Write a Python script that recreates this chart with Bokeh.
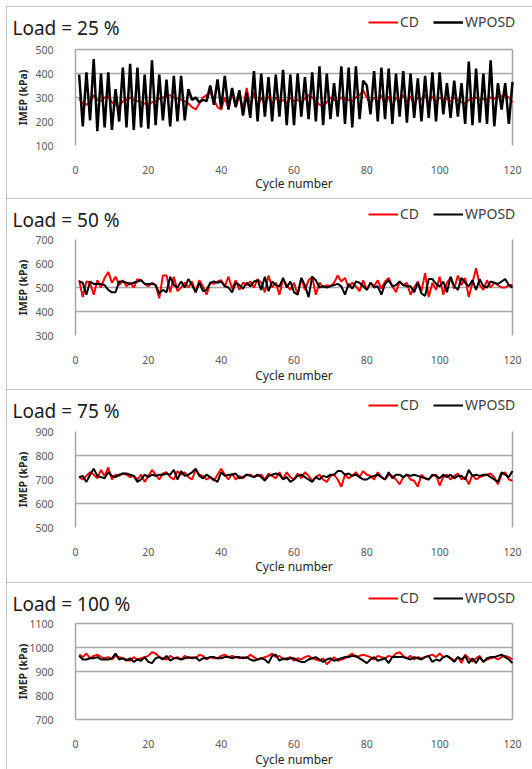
import math
from bokeh.plotting import figure
from bokeh.models import Range1d, FixedTicker, Legend, LegendItem, Label, Spacer
from bokeh.layouts import column, row
from bokeh.embed import file_html
from bokeh.resources import INLINE

cycles = list(range(1, 121))
x_ticks = [0, 20, 40, 60, 80, 100, 120]

titles = ["Load = 25 %", "Load = 50 %", "Load = 75 %", "Load = 100 %"]
series_names = ["CD", "WPOSD"]
x_title = "Cycle number"
y_title = "IMEP (kPa)"

cd_25 = [295, 275, 270, 280, 310, 290, 285, 300, 305, 280,
         270, 260, 285, 290, 300, 290, 285, 280, 275, 270,
         280, 285, 295, 300, 305, 310, 300, 295, 290, 285,
         275, 260, 250, 275, 300, 310, 320, 290, 260, 250,
         300, 255, 320, 260, 310, 250, 340, 260, 320, 265,
         300, 270, 305, 275, 300, 280, 290, 275, 300, 285,
         290, 280, 295, 310, 300, 285, 270, 265, 280, 300,
         290, 285, 300, 295, 290, 285, 300, 310, 330, 300,
         275, 300, 280, 310, 270, 305, 260, 300, 285, 310,
         280, 305, 270, 300, 290, 310, 275, 305, 280, 300,
         290, 295, 285, 300, 290, 280, 275, 290, 295, 300,
         290, 295, 290, 300, 295, 300, 305, 310, 300, 280]
wposd_25 = [395, 180, 405, 205, 460, 160, 400, 175, 405, 165,
            335, 200, 425, 175, 440, 165, 425, 175, 395, 170,
            455, 185, 395, 205, 375, 180, 390, 200, 390, 205,
            335, 290, 300, 280, 290, 285, 350, 270, 375, 255,
            390, 250, 340, 260, 330, 225, 320, 215, 410, 200,
            400, 220, 385, 200, 395, 220, 415, 185, 395, 185,
            400, 220, 385, 210, 405, 200, 430, 185, 400, 210,
            360, 220, 430, 190, 425, 175, 430, 210, 370, 350,
            230, 410, 200, 425, 210, 420, 190, 400, 220, 410,
            195, 400, 215, 380, 200, 390, 215, 405, 200, 405,
            230, 360, 215, 370, 220, 360, 190, 450, 185, 420,
            195, 400, 190, 455, 180, 360, 250, 360, 190, 365]

cd_50 = [530, 460, 525, 520, 470, 530, 500, 540, 565, 520,
         545, 510, 530, 505, 520, 500, 535, 530, 515, 505,
         520, 510, 455, 550, 550, 480, 545, 485, 500, 520,
         500, 525, 480, 530, 505, 470, 520, 515, 525, 530,
         505, 545, 495, 530, 490, 520, 510, 525, 500, 535,
         520, 480, 550, 500, 520, 470, 535, 510, 490, 520,
         470, 540, 490, 530, 545, 470, 520, 500, 510, 505,
         520, 550, 525, 540, 500, 520, 505, 485, 530, 490,
         520, 505, 530, 495, 525, 540, 505, 480, 525, 510,
         520, 470, 500, 525, 485, 560, 460, 520, 490, 545,
         470, 520, 540, 495, 550, 510, 540, 460, 520, 580,
         510, 490, 530, 500, 520, 510, 500, 500, 510, 510]
wposd_50 = [525, 520, 470, 525, 515, 515, 515, 510, 490, 480,
            480, 525, 525, 520, 515, 520, 525, 530, 515, 515,
            515, 510, 475, 490, 480, 545, 510, 500, 525, 500,
            535, 510, 480, 520, 485, 490, 520, 525, 520, 525,
            505, 500, 480, 520, 510, 495, 520, 505, 525, 530,
            490, 545, 485, 525, 510, 505, 540, 500, 525, 480,
            470, 540, 510, 460, 545, 530, 500, 505, 500, 505,
            510, 515, 505, 470, 515, 495, 525, 520, 505, 490,
            520, 500, 505, 470, 515, 530, 505, 510, 525, 510,
            505, 505, 480, 520, 475, 465, 535, 535, 515, 505,
            525, 480, 545, 505, 490, 540, 520, 505, 530, 490,
            535, 505, 500, 525, 520, 515, 525, 535, 510, 500]

cd_75 = [710, 700, 715, 730, 720, 705, 740, 715, 750, 700,
         720, 715, 725, 720, 710, 715, 700, 720, 690, 715,
         740, 720, 700, 725, 730, 710, 700, 735, 720, 730,
         710, 700, 740, 720, 715, 700, 710, 695, 720, 745,
         720, 700, 725, 700, 715, 705, 720, 720, 710, 715,
         720, 700, 725, 715, 705, 730, 700, 730, 710, 700,
         725, 705, 730, 715, 695, 710, 720, 700, 690, 715,
         720, 700, 670, 720, 705, 715, 730, 710, 735, 720,
         715, 700, 730, 710, 700, 720, 715, 700, 680, 710,
         720, 700, 695, 670, 720, 705, 700, 715, 720, 675,
         710, 720, 700, 715, 725, 700, 710, 680, 720, 700,
         710, 715, 720, 725, 710, 680, 720, 730, 700, 695]
wposd_75 = [710, 715, 690, 720, 745, 715, 710, 705, 730, 715,
            710, 720, 725, 725, 720, 715, 690, 700, 720, 710,
            720, 715, 720, 720, 725, 720, 740, 700, 735, 715,
            720, 730, 745, 715, 705, 720, 710, 700, 690, 730,
            715, 720, 720, 725, 705, 710, 720, 715, 710, 720,
            710, 695, 715, 720, 725, 720, 700, 710, 690, 700,
            715, 720, 710, 700, 690, 710, 700, 715, 710, 720,
            720, 735, 735, 720, 725, 715, 720, 710, 700, 700,
            710, 715, 720, 710, 700, 730, 705, 720, 720, 710,
            720, 715, 720, 715, 710, 705, 700, 720, 715, 705,
            720, 710, 720, 705, 715, 715, 700, 740, 715, 720,
            715, 720, 720, 710, 700, 690, 730, 720, 710, 735]

cd_100 = [970, 960, 975, 955, 965, 970, 960, 955, 960, 950,
          965, 960, 955, 950, 945, 960, 950, 955, 960, 965,
          980, 975, 960, 955, 950, 965, 955, 960, 950, 965,
          955, 960, 955, 970, 965, 950, 960, 955, 955, 965,
          970, 960, 965, 960, 955, 960, 955, 970, 960, 950,
          955, 960, 965, 975, 960, 965, 950, 955, 960, 945,
          955, 950, 960, 965, 955, 950, 945, 955, 930, 945,
          960, 945, 950, 955, 965, 975, 960, 965, 970, 965,
          960, 950, 965, 960, 955, 965, 960, 975, 980, 965,
          955, 965, 950, 960, 955, 960, 965, 970, 960, 975,
          960, 965, 955, 945, 960, 935, 970, 955, 940, 955,
          965, 940, 950, 955, 960, 950, 960, 965, 960, 950]
wposd_100 = [965, 950, 950, 955, 955, 960, 950, 950, 950, 955,
             975, 950, 955, 945, 955, 940, 950, 945, 960, 940,
             935, 955, 960, 950, 965, 945, 955, 955, 950, 955,
             960, 955, 960, 945, 955, 955, 960, 960, 955, 955,
             960, 960, 955, 960, 960, 955, 960, 950, 945, 950,
             955, 950, 935, 965, 970, 945, 955, 950, 955, 955,
             945, 940, 940, 950, 955, 960, 950, 940, 950, 955,
             945, 950, 955, 960, 960, 965, 965, 955, 945, 935,
             950, 960, 945, 950, 955, 935, 960, 960, 960, 960,
             955, 950, 960, 955, 950, 960, 965, 940, 950, 945,
             960, 965, 955, 940, 960, 950, 965, 935, 955, 935,
             960, 940, 955, 960, 960, 965, 970, 960, 950, 935]

cd_all = [cd_25, cd_50, cd_75, cd_100]
wposd_all = [wposd_25, wposd_50, wposd_75, wposd_100]

y_ranges = [(100, 500), (300, 700), (500, 900), (700, 1100)]
y_ticks = [[100, 200, 300, 400, 500],
           [300, 400, 500, 600, 700],
           [500, 600, 700, 800, 900],
           [700, 800, 900, 1000, 1100]]
y_gridlines = [[300, 400, 500], [400, 500], [600, 800], [700, 900, 1000, 1100]]

# ---- layout / style (pixels) ----
FONT = "Noto Sans"
RED = "#ff0000"
BLACK = "#000000"
GRID = "#a6a6a6"
W = 526
panel_heights = [192, 191, 193, 187]
top_offsets = [43, 41, 42, 41]
DATA_LEFT = 69
DATA_W = 437
DATA_H = 96

panels = []
for i in range(4):
    Hp = panel_heights[i]
    top_off = top_offsets[i]
    ymin, ymax = y_ranges[i]
    x0, x1 = x_ticks[0], x_ticks[-1]
    ppx = DATA_W / (x1 - x0)
    ppy = DATA_H / (ymax - ymin)
    xr = Range1d(x0 - DATA_LEFT / ppx, x1 + (W - DATA_LEFT - DATA_W) / ppx)
    yr = Range1d(ymin - (Hp - top_off - DATA_H) / ppy, ymax + top_off / ppy)

    p = figure(width=W, height=Hp, output_backend="svg", toolbar_location=None,
               x_range=xr, y_range=yr, min_border=0)
    p.outline_line_color = None
    p.xgrid.visible = False
    p.ygrid.visible = False

    # axes fixed inside the frame
    p.xaxis.fixed_location = ymin
    p.yaxis.fixed_location = x0
    p.xaxis.ticker = FixedTicker(ticks=x_ticks)
    p.yaxis.ticker = FixedTicker(ticks=y_ticks[i])
    for ax in (p.xaxis[0], p.yaxis[0]):
        ax.axis_line_color = None
        ax.major_tick_line_color = None
        ax.minor_tick_line_color = None
        ax.major_label_text_font = FONT
        ax.major_label_text_font_size = "10.5px"
        ax.major_label_text_color = "#595959"
    p.xaxis.major_label_standoff = 14
    p.yaxis.major_label_standoff = 16

    # grid lines and the vertical frame lines
    g = y_gridlines[i]
    p.segment(x0=[x0] * len(g), x1=[x1] * len(g), y0=g, y1=g,
              line_color=GRID, line_width=1.5)
    p.segment(x0=[x0, x1], x1=[x0, x1], y0=[ymin, ymin], y1=[ymax, ymax],
              line_color=GRID, line_width=1.5)

    lw_w = 2.5 if i == 0 else 2.0
    r_cd = p.line(cycles, cd_all[i], line_color=RED, line_width=2.0)
    r_w = p.line(cycles, wposd_all[i], line_color=BLACK, line_width=lw_w)

    # axis titles
    p.add_layout(Label(x=16, y=(ymin + ymax) / 2, x_units="screen", y_units="data",
                       text=y_title, angle=math.pi / 2, text_font=FONT,
                       text_font_size="10.5px", text_font_style="bold",
                       text_color="#262626", text_align="center",
                       text_baseline="middle"))
    p.add_layout(Label(x=(x0 + x1) / 2, y=Hp - 177, x_units="data", y_units="screen",
                       text=x_title, text_font=FONT, text_font_size="12px",
                       text_color="#262626", text_align="center",
                       text_baseline="middle"))
    # panel title
    p.add_layout(Label(x=6, y=Hp - 21, x_units="screen", y_units="screen",
                       text=titles[i], text_font=FONT, text_font_size="19px",
                       text_color="#1a1a1a", text_baseline="middle"))

    legend = Legend(items=[LegendItem(label=series_names[0], renderers=[r_cd]),
                           LegendItem(label=series_names[1], renderers=[r_w])],
                    orientation="horizontal", location=(362, Hp - 25),
                    glyph_width=30, glyph_height=14, label_standoff=2, spacing=13,
                    padding=0, margin=0, border_line_color=None,
                    background_fill_alpha=0,
                    label_text_font=FONT, label_text_font_size="14px",
                    label_text_color="#404040")
    p.add_layout(legend)

    panels.append(column(p, styles={"outline": "1px solid #8c8c8c",
                                    "outline-offset": "-1px"}))

layout = row(Spacer(width=6), column(Spacer(height=6), *panels, spacing=0), spacing=0)
open("out.html", "w").write(file_html(layout, INLINE))
